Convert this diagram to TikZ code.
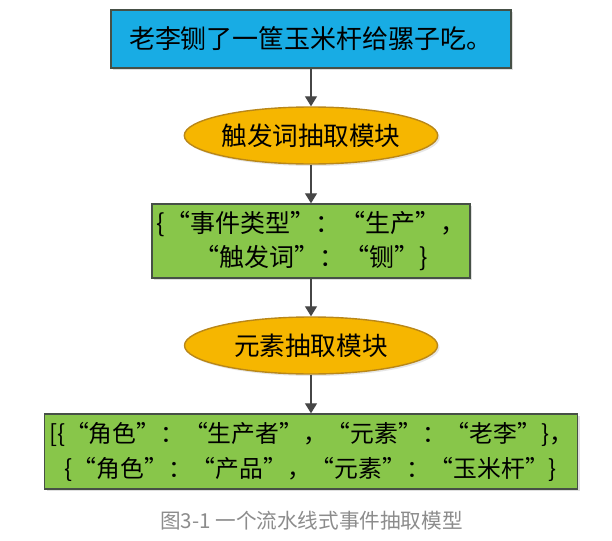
\documentclass[tikz,border=0pt]{standalone}
\usepackage{fontspec}
\setmainfont{Noto Sans CJK SC}
\usetikzlibrary{shapes.geometric,arrows.meta,shadows}
\definecolor{skyfill}{RGB}{24,172,228}
\definecolor{goldfill}{RGB}{246,182,0}
\definecolor{goldline}{RGB}{185,135,25}
\definecolor{leaffill}{RGB}{136,198,74}
\definecolor{boxline}{RGB}{70,80,70}
\definecolor{flowgray}{RGB}{70,70,70}
\definecolor{capgray}{RGB}{140,140,140}
\tikzset{x=0.5pt, y=-0.5pt,
  stagebox/.style={rectangle, draw=boxline, line width=0.7pt, inner sep=0pt, align=center,
                   drop shadow={opacity=0.25, shadow xshift=1pt, shadow yshift=-1pt}},
  module/.style={ellipse, draw=goldline, fill=goldfill, line width=0.7pt, inner sep=0pt,
                 minimum width=126.5pt, minimum height=28.5pt,
                 drop shadow={opacity=0.2, shadow xshift=1pt, shadow yshift=-1pt},
                 font=\fontsize{12.8}{15}\selectfont},
  flow/.style={draw=flowgray, line width=0.65pt, -{Triangle[length=5pt,width=6pt]}}}

\begin{document}
\begin{tikzpicture}
  \useasboundingbox (0,0) rectangle (612,541);
  % sentence, two modules and what they give
  \node[stagebox, fill=skyfill, minimum width=200pt, minimum height=29pt,
        font=\fontsize{13}{16}\selectfont] (sent) at (311,39) {老李铡了一筐玉米杆给骡子吃。};
  \node[module] (trig) at (311,135.5) {触发词抽取模块};
  \node[stagebox, fill=leaffill, minimum width=159pt, minimum height=37pt,
        font=\fontsize{12.5}{17}\selectfont] (event) at (311,241)
       {\{“事件类型”：“生产”，\\ “触发词”：“铡”\}};
  \node[module] (elem) at (311,345.5) {元素抽取模块};
  \node[stagebox, fill=leaffill, minimum width=266.5pt, minimum height=37.5pt,
        font=\fontsize{11.9}{17.5}\selectfont] (args) at (311,451.5)
       {[\{“角色”：“生产者”，“元素”：“老李”\}，\\ \{“角色”：“产品”，“元素”：“玉米杆”\}};
  \draw[flow] (sent) -- (trig);
  \draw[flow] (trig) -- (event);
  \draw[flow] (event) -- (elem);
  \draw[flow] (elem) -- (args);
  \node[text=capgray, font=\fontsize{10.3}{12}\selectfont] (cap) at (311.5,521) {图3-1 一个流水线式事件抽取模型};
\end{tikzpicture}
\end{document}
